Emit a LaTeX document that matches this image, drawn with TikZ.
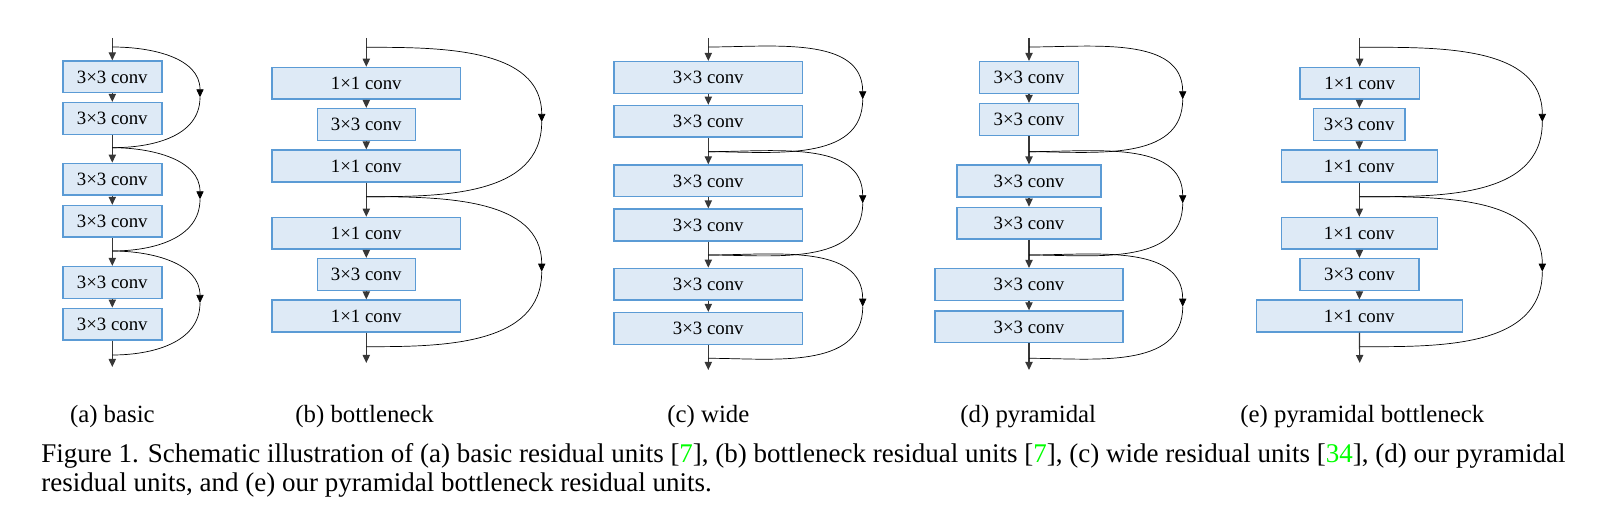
\documentclass[tikz,border=0pt]{standalone}
\usepackage{fontspec}
\setmainfont{Liberation Serif}
\usepackage{tikz}
\usetikzlibrary{calc}
\usetikzlibrary{arrows.meta}
\definecolor{convfill}{RGB}{222, 234, 246}
\definecolor{convedge}{RGB}{ 91, 155, 213}
\definecolor{trunk}{RGB}{ 55,  55,  55}
\definecolor{citegreen}{RGB}{  0, 255,   0}

\tikzset{
  conv/.style={draw=convedge, fill=convfill, line width=0.75pt, minimum height=15.8pt,
               inner sep=0pt, font=\fontsize{9.4}{11}\selectfont},
  flow/.style={draw=trunk, line width=0.6pt, -{Triangle[length=4pt,width=3.6pt]}},
  shortcut/.style={line width=0.35pt},
  shorthead/.style={shortcut, -{Triangle[length=4pt,width=3.6pt]}},
  subcap/.style={anchor=west, inner sep=0pt, font=\fontsize{12.4}{14}\selectfont}
}
% skip connection: start, turning point, join
\newcommand{\skipcon}[3]{%
  \draw[shorthead] (#1) to[out=0,in=90] (#2);
  \draw[shortcut]  (#2) to[out=-90,in=0] (#3);}

\begin{document}
\begin{tikzpicture}[x=0.5pt, y=-0.5pt]
\useasboundingbox (0,0) rectangle (1606,523);

% (a) basic
\coordinate (a0) at (112.3, 38);
\node[conv, minimum width=49.5pt] (a1) at (112.3, 76.9) {3×3 conv};
\node[conv, minimum width=49.5pt] (a2) at (112.3,118.5) {3×3 conv};
\node[conv, minimum width=49.5pt] (a3) at (112.3,179.2) {3×3 conv};
\node[conv, minimum width=49.5pt] (a4) at (112.3,221.4) {3×3 conv};
\node[conv, minimum width=49.5pt] (a5) at (112.3,282.5) {3×3 conv};
\node[conv, minimum width=49.5pt] (a6) at (112.3,324.2) {3×3 conv};
\coordinate (a7) at (112.3,367);
\draw[flow] (a0) -- (a1); \draw[flow] (a1) -- (a2); \draw[flow] (a2) -- (a3);
\draw[flow] (a3) -- (a4); \draw[flow] (a4) -- (a5); \draw[flow] (a5) -- (a6);
\draw[flow] (a6) -- (a7);
\coordinate (as) at (112.3, 47);
\coordinate (aj1) at (112.3,147.7); \coordinate (aj2) at (112.3,251); \coordinate (aj3) at (112.3,355);
\coordinate (ar1) at (200, 97.3);   \coordinate (ar2) at (200,199.3); \coordinate (ar3) at (200,303);
\skipcon{as}{ar1}{aj1} \skipcon{aj1}{ar2}{aj2} \skipcon{aj2}{ar3}{aj3}

% (b) bottleneck
\coordinate (b0) at (366.3, 38);
\node[conv, minimum width=94.2pt] (b1) at (366.3, 83.3) {1×1 conv};
\node[conv, minimum width=49pt]   (b2) at (366.3,124.5) {3×3 conv};
\node[conv, minimum width=94.2pt] (b3) at (366.3,166)   {1×1 conv};
\node[conv, minimum width=94.2pt] (b4) at (366.3,233.3) {1×1 conv};
\node[conv, minimum width=49pt]   (b5) at (366.3,274.5) {3×3 conv};
\node[conv, minimum width=94.2pt] (b6) at (366.3,316)   {1×1 conv};
\coordinate (b7) at (366.3,363);
\draw[flow] (b0) -- (b1); \draw[flow] (b1) -- (b2); \draw[flow] (b2) -- (b3);
\draw[flow] (b3) -- (b4); \draw[flow] (b4) -- (b5); \draw[flow] (b5) -- (b6);
\draw[flow] (b6) -- (b7);
\coordinate (bs) at (366.3, 47.3);
\coordinate (bj1) at (366.3,196.7); \coordinate (bj2) at (366.3,346.7);
\coordinate (br1) at (541.7,122);   \coordinate (br2) at (541.7,271.7);
\skipcon{bs}{br1}{bj1} \skipcon{bj1}{br2}{bj2}

% (c) wide
\coordinate (c0) at (708.3, 38);
\node[conv, minimum width=94.3pt] (c1) at (708.3, 77.5) {3×3 conv};
\node[conv, minimum width=94.3pt] (c2) at (708.3,121.3) {3×3 conv};
\node[conv, minimum width=94.3pt] (c3) at (708.3,180.9) {3×3 conv};
\node[conv, minimum width=94.3pt] (c4) at (708.3,225)   {3×3 conv};
\node[conv, minimum width=94.3pt] (c5) at (708.3,284.2) {3×3 conv};
\node[conv, minimum width=94.3pt] (c6) at (708.3,328.5) {3×3 conv};
\coordinate (c7) at (708.3,370);
\draw[flow] (c0) -- (c1); \draw[flow] (c1) -- (c2); \draw[flow] (c2) -- (c3);
\draw[flow] (c3) -- (c4); \draw[flow] (c4) -- (c5); \draw[flow] (c5) -- (c6);
\draw[flow] (c6) -- (c7);
\coordinate (cs) at (708.3, 47);
\coordinate (cj1) at (708.3,151.7); \coordinate (cj2) at (708.3,255); \coordinate (cj3) at (708.3,358.3);
\coordinate (cr1) at (862.7, 99.3); \coordinate (cr2) at (862.7,203.3); \coordinate (cr3) at (862.7,306.7);
\skipcon{cs}{cr1}{cj1} \skipcon{cj1}{cr2}{cj2} \skipcon{cj2}{cr3}{cj3}

% (d) pyramidal
\coordinate (d0) at (1029, 38);
\node[conv, minimum width=49.5pt] (d1) at (1029, 77.5) {3×3 conv};
\node[conv, minimum width=49.5pt] (d2) at (1029,119.5) {3×3 conv};
\node[conv, minimum width=71.8pt] (d3) at (1029,181)   {3×3 conv};
\node[conv, minimum width=71.8pt] (d4) at (1029,223.3) {3×3 conv};
\node[conv, minimum width=94.2pt] (d5) at (1029,284.5) {3×3 conv};
\node[conv, minimum width=94.2pt] (d6) at (1029,326.9) {3×3 conv};
\coordinate (d7) at (1029,370);
\draw[flow] (d0) -- (d1); \draw[flow] (d1) -- (d2); \draw[flow] (d2) -- (d3);
\draw[flow] (d3) -- (d4); \draw[flow] (d4) -- (d5); \draw[flow] (d5) -- (d6);
\draw[flow] (d6) -- (d7);
\coordinate (ds) at (1029, 47);
\coordinate (dj1) at (1029,151.7);   \coordinate (dj2) at (1029,255);     \coordinate (dj3) at (1029,358.3);
\coordinate (dr1) at (1182.7, 99.3); \coordinate (dr2) at (1182.7,203.3); \coordinate (dr3) at (1182.7,306.7);
\skipcon{ds}{dr1}{dj1} \skipcon{dj1}{dr2}{dj2} \skipcon{dj2}{dr3}{dj3}

% (e) pyramidal bottleneck
\coordinate (e0) at (1359.7, 38);
\node[conv, minimum width=59.7pt]  (e1) at (1359.7, 83.3) {1×1 conv};
\node[conv, minimum width=45.8pt]  (e2) at (1359.2,124.5) {3×3 conv};
\node[conv, minimum width=78pt]    (e3) at (1359.3,166)   {1×1 conv};
\node[conv, minimum width=78pt]    (e4) at (1359.3,233.3) {1×1 conv};
\node[conv, minimum width=59.5pt]  (e5) at (1359.5,274.5) {3×3 conv};
\node[conv, minimum width=103pt]   (e6) at (1359.3,316)   {1×1 conv};
\coordinate (e7) at (1359.7,363);
\draw[flow] (e0) -- (e1); \draw[flow] (e1) -- (e2); \draw[flow] (e2) -- (e3);
\draw[flow] (e3) -- (e4); \draw[flow] (e4) -- (e5); \draw[flow] (e5) -- (e6);
\draw[flow] (e6) -- (e7);
\coordinate (es) at (1359.7, 47.3);
\coordinate (ej1) at (1359.7,196.7); \coordinate (ej2) at (1359.7,346.7);
\coordinate (er1) at (1542.3,122);   \coordinate (er2) at (1542.3,271.7);
\skipcon{es}{er1}{ej1} \skipcon{ej1}{er2}{ej2}

% captions
\node[subcap] (capa) at (69.6,417) {(a) basic};
\node[subcap] (capb) at (295,417)  {(b) bottleneck};
\node[subcap] (capc) at (667,417)  {(c) wide};
\node[subcap] (capd) at (960,417)  {(d) pyramidal};
\node[subcap] (cape) at (1240,417) {(e) pyramidal bottleneck};
\node[anchor=west, inner sep=0pt, align=left, font=\fontsize{13.5}{14.4}\selectfont] (figcap) at (41,470.5)
  {Figure 1. Schematic illustration of (a) basic residual units [\textcolor{citegreen}{7}], (b) bottleneck residual units [\textcolor{citegreen}{7}], (c) wide residual units [\textcolor{citegreen}{34}], (d) our pyramidal\\
   residual units, and (e) our pyramidal bottleneck residual units.};
\end{tikzpicture}
\end{document}
